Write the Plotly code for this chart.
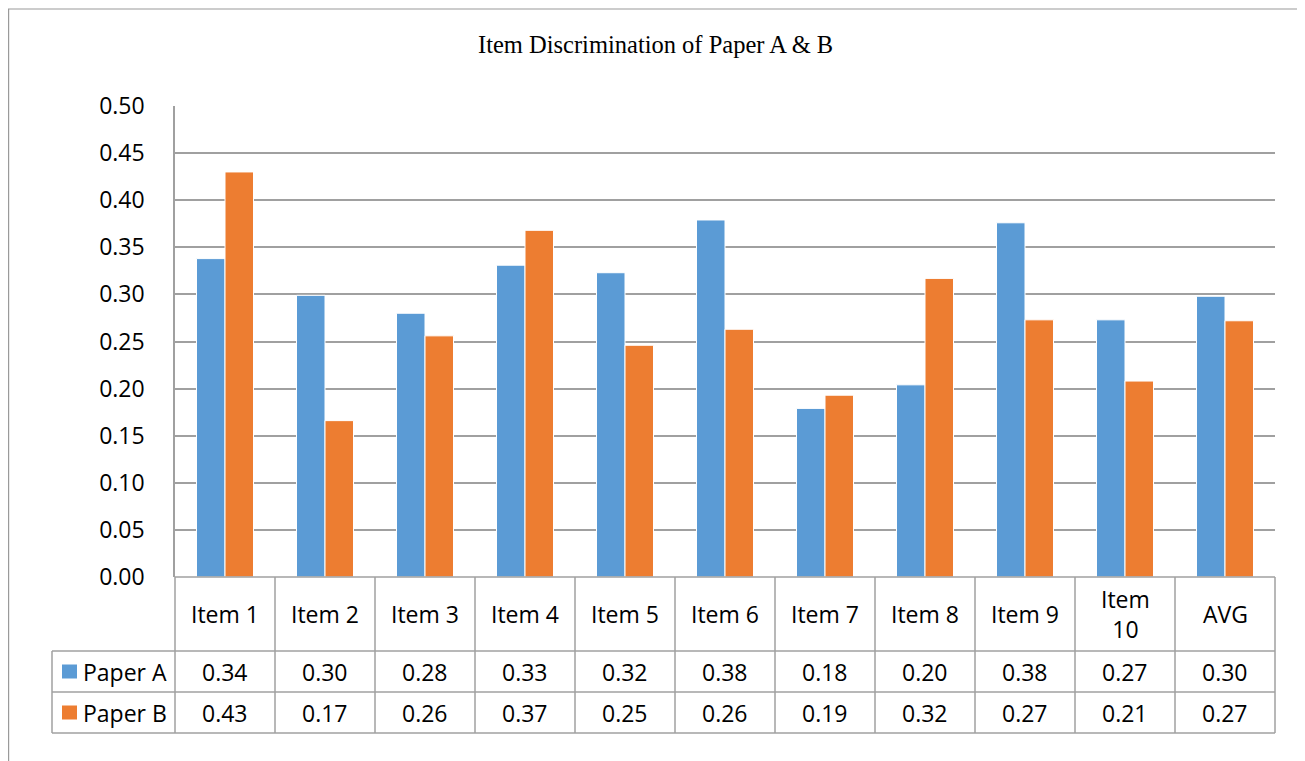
import plotly.graph_objects as go

categories = ["Item 1", "Item 2", "Item 3", "Item 4", "Item 5", "Item 6",
              "Item 7", "Item 8", "Item 9", "Item 10", "AVG"]
table_labels = ["Item 1", "Item 2", "Item 3", "Item 4", "Item 5", "Item 6",
                "Item 7", "Item 8", "Item 9", "Item<br>10", "AVG"]
paper_a = [0.338, 0.299, 0.280, 0.331, 0.323, 0.379, 0.179, 0.204, 0.376, 0.273, 0.298]
paper_b = [0.430, 0.166, 0.256, 0.368, 0.246, 0.263, 0.193, 0.317, 0.273, 0.208, 0.272]
series_names = ["Paper A", "Paper B"]
colors = ["#5B9BD5", "#ED7D31"]
title = "Item Discrimination of Paper A & B"

# page coordinates (browser body has an 8px margin)
OFF = 8
W, H = 1305 - OFF, 761 - OFF
L, R, T, B = 175, 1275, 106, 577

def px(x):
    return (x - L) / (R - L)

def py(y):
    return (B - y) / (B - T)

fig = go.Figure()
for name, vals, c in zip(series_names, [paper_a, paper_b], colors):
    fig.add_trace(go.Bar(x=categories, y=vals, name=name, marker_color=c,
                         marker_line=dict(color="white", width=1)))

grid = "#A0A0A0"
font_main = "Open Sans, Liberation Sans, sans-serif"
FS = 23
shapes = []
annotations = []

# outer border
shapes.append(dict(type="rect", xref="paper", yref="paper", x0=px(8.6), x1=px(1303),
                   y0=py(775), y1=py(9), line=dict(color="#9A9A9A", width=1.2)))

# table lines
ncat = len(categories)
cw = (R - L) / ncat
row_tops = [577, 651, 692, 733]
for i, yy in enumerate(row_tops):
    x0 = L if i == 0 else 52
    shapes.append(dict(type="line", xref="paper", yref="paper", x0=px(x0), x1=px(R),
                       y0=py(yy), y1=py(yy), line=dict(color=grid, width=1.5)))
for k in range(ncat + 1):
    xx = L + k * cw
    shapes.append(dict(type="line", xref="paper", yref="paper", x0=px(xx), x1=px(xx),
                       y0=py(577), y1=py(733), line=dict(color=grid, width=1.5)))
shapes.append(dict(type="line", xref="paper", yref="paper", x0=px(52), x1=px(52),
                   y0=py(651), y1=py(733), line=dict(color=grid, width=1.5)))

# category labels
for k, lab in enumerate(table_labels):
    annotations.append(dict(xref="paper", yref="paper", x=px(L + (k + 0.5) * cw), y=py(614),
                            text=lab, showarrow=False, font=dict(size=FS, color="#000", family=font_main),
                            xanchor="center", yanchor="middle"))

# series rows
row_centers = [671.5, 712.5]
for name, vals, c, yc in zip(series_names, [paper_a, paper_b], colors, row_centers):
    shapes.append(dict(type="rect", xref="paper", yref="paper", x0=px(62), x1=px(77),
                       y0=py(yc + 7), y1=py(yc - 7), fillcolor=c, line=dict(width=0)))
    annotations.append(dict(xref="paper", yref="paper", x=px(81), y=py(yc), text=name,
                            showarrow=False, xanchor="left", yanchor="middle",
                            font=dict(size=FS, color="#000", family=font_main)))
    for k, v in enumerate(vals):
        annotations.append(dict(xref="paper", yref="paper", x=px(L + (k + 0.5) * cw), y=py(yc),
                                text=f"{v:.2f}", showarrow=False, xanchor="center", yanchor="middle",
                                font=dict(size=FS, color="#000", family=font_main)))

# title
annotations.append(dict(xref="paper", yref="paper", x=px(655), y=py(44), text=title,
                        showarrow=False, xanchor="center", yanchor="middle",
                        font=dict(size=24.5, color="#000", family="Liberation Serif, DejaVu Serif, serif")))

fig.update_layout(
    width=W, height=H,
    margin=dict(l=L - OFF, r=W - (R - OFF), t=T - OFF, b=H - (B - OFF), pad=0),
    paper_bgcolor="white", plot_bgcolor="white",
    showlegend=False,
    barmode="group", bargap=0.43, bargroupgap=0,
    shapes=shapes, annotations=annotations,
    xaxis=dict(showticklabels=False, showgrid=False, ticks="", range=[-0.5, ncat - 0.5],
               showline=False, zeroline=False, fixedrange=True),
    yaxis=dict(range=[0, 0.5], dtick=0.05, tickformat=".2f", showgrid=True, gridcolor=grid,
               gridwidth=1.5, showline=True, linecolor=grid, linewidth=1.5, zeroline=False,
               ticks="", ticklabelstandoff=24,
               tickfont=dict(size=FS, color="#000", family=font_main)),
)

fig.write_html("out.html")
